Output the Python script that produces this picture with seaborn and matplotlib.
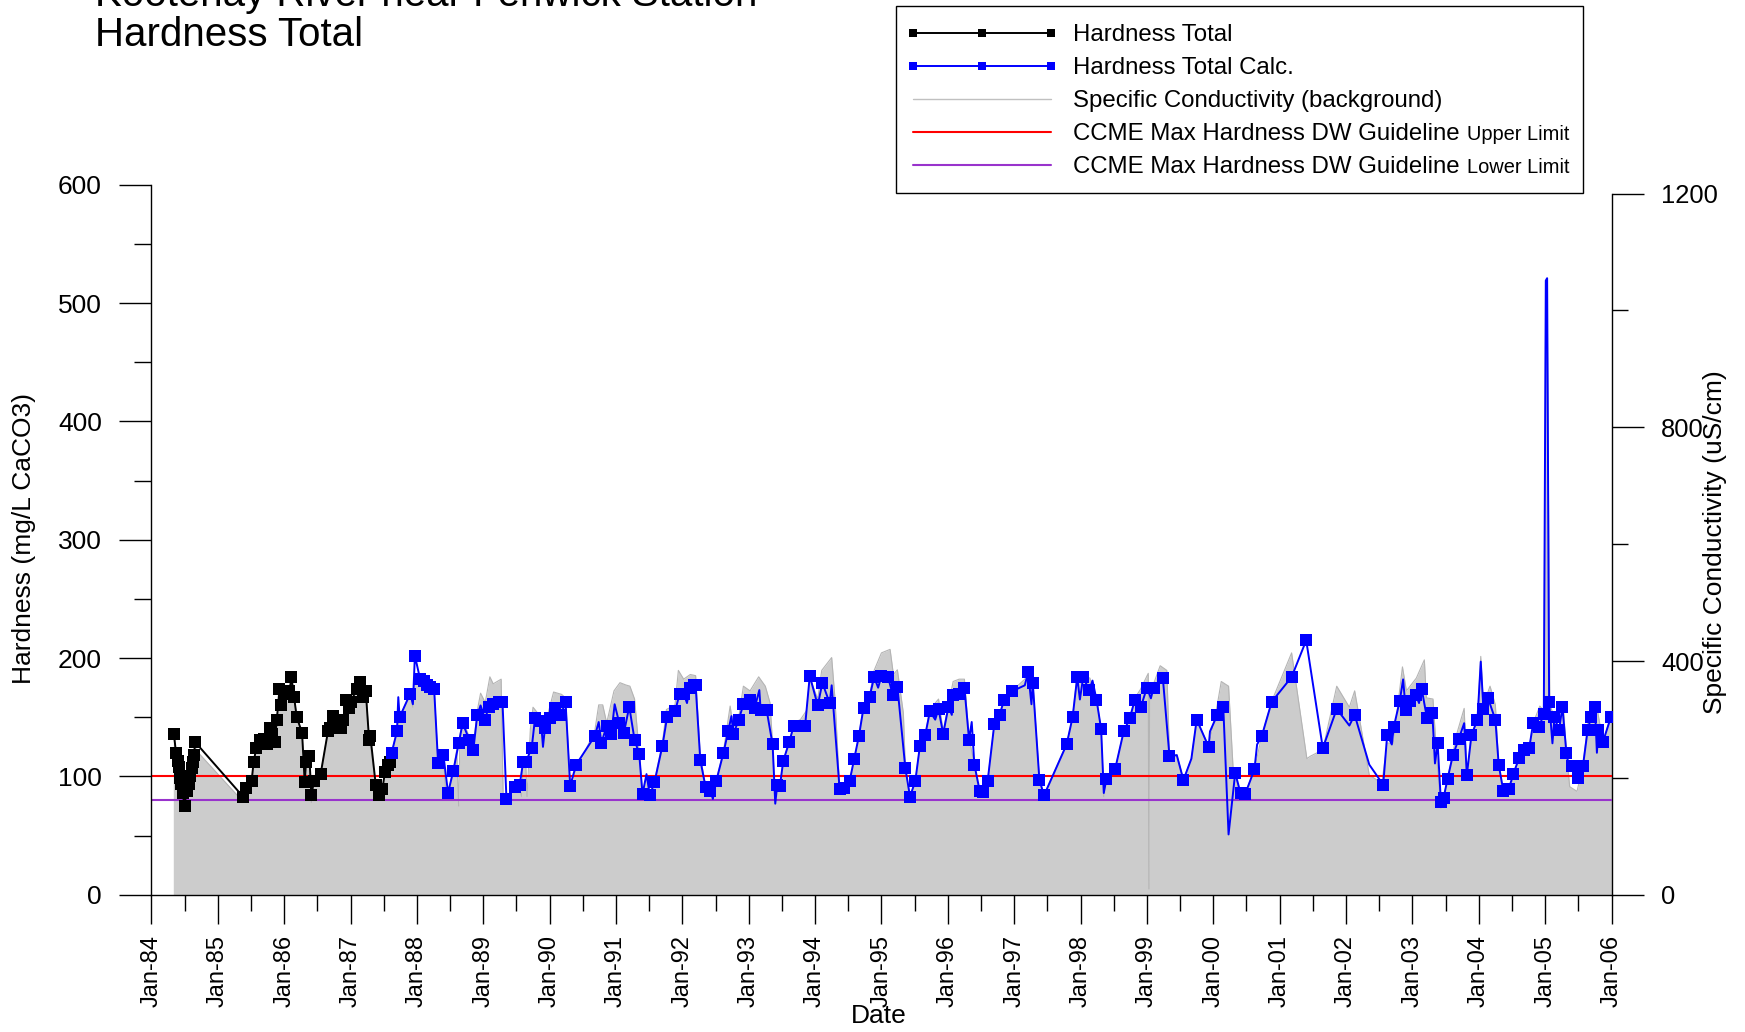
import matplotlib
matplotlib.use("Agg")
import numpy as np
import pandas as pd
import matplotlib.pyplot as plt
import seaborn as sns
from matplotlib.lines import Line2D
from matplotlib.patches import Rectangle
from matplotlib.ticker import MultipleLocator, FixedLocator

# measured total hardness (mg/L CaCO3) by decimal year
total_year = [1984.34, 1984.37, 1984.40, 1984.41, 1984.43, 1984.44, 1984.47, 1984.50,
              1984.53, 1984.57, 1984.58, 1984.61, 1984.63, 1984.64, 1984.66,
              1985.38, 1985.43, 1985.51, 1985.54, 1985.58, 1985.63, 1985.69, 1985.74,
              1985.78, 1985.81, 1985.86, 1985.89, 1985.93, 1985.96, 1986.00, 1986.08,
              1986.11, 1986.15, 1986.19, 1986.27, 1986.31, 1986.33, 1986.38, 1986.41,
              1986.45, 1986.55, 1986.66, 1986.69, 1986.73, 1986.82, 1986.86, 1986.89,
              1986.93, 1986.97, 1987.00, 1987.10, 1987.15, 1987.19, 1987.23, 1987.28,
              1987.30, 1987.38, 1987.43, 1987.48, 1987.52, 1987.56, 1987.59]
total_hard = [136, 120, 113, 108, 99, 94, 86, 75, 88, 94, 100, 107, 112, 118, 129,
              83, 90, 96, 112, 124, 131, 132, 127, 141, 136, 129, 148, 174, 160, 170,
              172, 184, 167, 150, 137, 95, 112, 117, 84, 96, 102, 138, 141, 151, 148,
              141, 148, 165, 158, 163, 174, 180, 167, 172, 131, 134, 93, 84, 89, 104,
              110, 112]

# calculated hardness (all line vertices)
calc_year = [1987.62, 1987.70, 1987.72, 1987.74, 1987.90, 1987.94, 1987.97, 1988.05,
             1988.10, 1988.15, 1988.20, 1988.26, 1988.32, 1988.40, 1988.47, 1988.55,
             1988.63, 1988.69, 1988.79, 1988.85, 1988.91, 1988.96, 1989.03, 1989.08,
             1989.15, 1989.23, 1989.29, 1989.35, 1989.48, 1989.55, 1989.60, 1989.64,
             1989.73, 1989.78, 1989.87, 1989.90, 1989.93, 1990.01, 1990.08, 1990.17,
             1990.24, 1990.31, 1990.40, 1990.68, 1990.74, 1990.78, 1990.86, 1990.93,
             1990.98, 1991.05, 1991.12, 1991.20, 1991.28, 1991.35, 1991.40, 1991.46,
             1991.51, 1991.58, 1991.70, 1991.77, 1991.89, 1991.96, 1992.02, 1992.07,
             1992.11, 1992.17, 1992.20, 1992.27, 1992.35, 1992.42, 1992.46, 1992.51,
             1992.62, 1992.69, 1992.74, 1992.77, 1992.85, 1992.92, 1993.02, 1993.09,
             1993.16, 1993.18, 1993.27, 1993.36, 1993.40, 1993.43, 1993.47, 1993.52,
             1993.61, 1993.68, 1993.77, 1993.85, 1993.92, 1994.04, 1994.11, 1994.22,
             1994.25, 1994.37, 1994.43, 1994.52, 1994.59, 1994.66, 1994.73, 1994.82,
             1994.89, 1994.95, 1995.00, 1995.10, 1995.17, 1995.24, 1995.36, 1995.43,
             1995.51, 1995.58, 1995.66, 1995.73, 1995.81, 1995.86, 1995.93, 1996.01,
             1996.06, 1996.08, 1996.17, 1996.25, 1996.32, 1996.36, 1996.40, 1996.48,
             1996.53, 1996.60, 1996.70, 1996.78, 1996.85, 1996.97, 1997.16, 1997.21,
             1997.26, 1997.28, 1997.38, 1997.45, 1997.79, 1997.88, 1997.95, 1997.99,
             1998.04, 1998.13, 1998.18, 1998.24, 1998.31, 1998.35, 1998.39, 1998.52,
             1998.65, 1998.74, 1998.82, 1998.91, 1999.00, 1999.06, 1999.10, 1999.24,
             1999.34, 1999.45, 1999.55, 1999.67, 1999.75, 1999.93, 1999.95, 2000.06,
             2000.15, 2000.23, 2000.33, 2000.41, 2000.48, 2000.62, 2000.66, 2000.73,
             2000.88, 2001.18, 2001.40, 2001.65, 2001.86, 2002.05, 2002.13, 2002.35,
             2002.56, 2002.62, 2002.69, 2002.72, 2002.81, 2002.86, 2002.90, 2002.96,
             2003.05, 2003.10, 2003.14, 2003.22, 2003.30, 2003.34, 2003.38, 2003.43,
             2003.47, 2003.53, 2003.61, 2003.70, 2003.78, 2003.82, 2003.89, 2003.98,
             2004.03, 2004.07, 2004.14, 2004.25, 2004.30, 2004.37, 2004.45, 2004.52,
             2004.61, 2004.68, 2004.76, 2004.82, 2004.91, 2004.98, 2005.01, 2005.03,
             2005.06, 2005.11, 2005.14, 2005.21, 2005.26, 2005.32, 2005.37, 2005.41,
             2005.49, 2005.57, 2005.64, 2005.69, 2005.75, 2005.78, 2005.80, 2005.87,
             2005.99]
calc_hard = [120, 138, 167, 150, 170, 161, 202, 182, 181, 177, 176, 174, 111, 118, 86, 105,
             128, 145, 131, 122, 152, 160, 148, 159, 161, 163, 163, 81, 91, 93, 112, 112,
             124, 149, 147, 125, 141, 149, 158, 152, 163, 92, 110, 134, 146, 128, 143, 136,
             161, 145, 137, 159, 131, 119, 85, 102, 84, 95, 126, 150, 155, 170, 170, 162,
             175, 177, 177, 114, 91, 88, 81, 96, 120, 138, 151, 136, 148, 161, 165, 158,
             173, 156, 156, 127, 77, 93, 92, 113, 129, 143, 143, 143, 185, 160, 179, 162,
             177, 89, 90, 96, 115, 134, 158, 167, 184, 175, 185, 184, 169, 176, 107, 83,
             96, 126, 135, 155, 148, 157, 136, 159, 152, 169, 170, 175, 131, 146, 110, 88,
             87, 96, 144, 152, 165, 172, 177, 188, 161, 179, 97, 84, 127, 150, 184, 165,
             184, 173, 181, 165, 140, 86, 98, 106, 138, 149, 165, 159, 175, 166, 175, 183,
             117, 118, 97, 115, 148, 125, 138, 152, 159, 51, 103, 86, 85, 106, 127, 134,
             163, 184, 215, 124, 157, 143, 152, 110, 93, 135, 127, 142, 164, 182, 156, 164,
             169, 162, 174, 149, 154, 111, 128, 78, 82, 98, 118, 132, 145, 101, 135, 148,
             197, 157, 166, 148, 110, 88, 89, 102, 116, 122, 124, 145, 142, 153, 519, 521,
             163, 128, 150, 139, 159, 120, 105, 109, 99, 109, 139, 150, 159, 120, 139, 129,
             150]
# calculated vertices drawn without a marker
calc_nomark = [1987.72, 1987.94, 1988.96, 1989.90, 1990.74, 1990.98, 1991.46, 1992.07,
               1992.46, 1992.74, 1993.16, 1993.40, 1994.25, 1994.95, 1995.81, 1996.06,
               1996.36, 1997.16, 1997.26, 1997.99, 1998.18, 1998.35, 1999.06, 1999.45,
               1999.67, 1999.95, 2000.23, 2000.66, 2002.05, 2002.35, 2002.69, 2002.86,
               2003.10, 2003.34, 2003.78, 2004.03, 2005.01, 2005.03, 2005.11, 2005.37,
               2005.78]

# specific conductivity (uS/cm), background shading
cond_year = [1984.33, 1984.37, 1984.41, 1984.44, 1984.50, 1984.53, 1984.58, 1984.63,
             1984.66, 1984.70, 1985.36, 1985.43, 1985.51, 1985.54, 1985.58, 1985.63,
             1985.69, 1985.74, 1985.78, 1985.86, 1985.89, 1985.93, 1985.96, 1986.00,
             1986.08, 1986.11, 1986.15, 1986.19, 1986.27, 1986.31, 1986.33, 1986.38,
             1986.41, 1986.45, 1986.55, 1986.66, 1986.73, 1986.82, 1986.89, 1986.93,
             1987.00, 1987.10, 1987.15, 1987.23, 1987.28, 1987.38, 1987.43, 1987.48,
             1987.52, 1987.59, 1987.62, 1987.70, 1987.74, 1987.90, 1987.94, 1987.97,
             1988.05, 1988.10, 1988.15, 1988.20, 1988.26, 1988.32, 1988.40, 1988.44,
             1988.47, 1988.55, 1988.60, 1988.63, 1988.65, 1988.69, 1988.79, 1988.85,
             1988.91, 1988.96, 1989.03, 1989.10, 1989.15, 1989.27, 1989.30, 1989.35,
             1989.45, 1989.52, 1989.58, 1989.60, 1989.64, 1989.66, 1989.71, 1989.75,
             1989.87, 1989.93, 1990.06, 1990.18, 1990.24, 1990.31, 1990.41, 1990.68,
             1990.74, 1990.80, 1990.86, 1990.97, 1991.06, 1991.15, 1991.21, 1991.28,
             1991.35, 1991.40, 1991.46, 1991.51, 1991.58, 1991.70, 1991.76, 1991.89,
             1991.94, 1992.02, 1992.12, 1992.20, 1992.27, 1992.35, 1992.42, 1992.47,
             1992.51, 1992.62, 1992.72, 1992.77, 1992.85, 1992.92, 1993.02, 1993.15,
             1993.25, 1993.32, 1993.36, 1993.40, 1993.43, 1993.47, 1993.52, 1993.61,
             1993.68, 1993.78, 1993.87, 1993.92, 1994.04, 1994.10, 1994.25, 1994.30,
             1994.37, 1994.43, 1994.52, 1994.59, 1994.66, 1994.73, 1994.82, 1994.89,
             1995.00, 1995.13, 1995.18, 1995.24, 1995.33, 1995.36, 1995.43, 1995.51,
             1995.58, 1995.66, 1995.73, 1995.86, 1995.93, 1996.01, 1996.08, 1996.17,
             1996.25, 1996.32, 1996.40, 1996.48, 1996.53, 1996.60, 1996.70, 1996.78,
             1996.85, 1996.97, 1997.16, 1997.21, 1997.28, 1997.38, 1997.45, 1997.79,
             1997.88, 1997.95, 1998.04, 1998.14, 1998.24, 1998.31, 1998.35, 1998.39,
             1998.52, 1998.65, 1998.74, 1998.82, 1998.90, 1999.02, 1999.03, 1999.04,
             1999.10, 1999.20, 1999.30, 1999.34, 1999.45, 1999.55, 1999.67, 1999.75,
             1999.93, 2000.06, 2000.12, 2000.23, 2000.30, 2000.41, 2000.48, 2000.62,
             2000.73, 2000.88, 2001.18, 2001.41, 2001.46, 2001.65, 2001.86, 2002.05,
             2002.13, 2002.35, 2002.54, 2002.62, 2002.71, 2002.85, 2002.91, 2003.06,
             2003.18, 2003.21, 2003.31, 2003.37, 2003.43, 2003.47, 2003.53, 2003.67,
             2003.78, 2003.82, 2003.89, 2003.98, 2004.03, 2004.07, 2004.17, 2004.25,
             2004.30, 2004.37, 2004.45, 2004.52, 2004.61, 2004.68, 2004.76, 2004.82,
             2004.92, 2004.98, 2005.01, 2005.03, 2005.07, 2005.14, 2005.21, 2005.27,
             2005.32, 2005.37, 2005.48, 2005.57, 2005.65, 2005.78, 2005.87, 2006.00]
cond_val = [276, 244, 219, 193, 158, 179, 203, 227, 252, 244, 162, 183, 195, 227, 252, 266,
            268, 258, 286, 264, 300, 349, 325, 345, 349, 373, 339, 304, 278, 193, 227, 237,
            158, 195, 207, 280, 306, 300, 300, 335, 331, 353, 365, 349, 270, 189, 166, 181,
            211, 227, 244, 280, 304, 345, 321, 369, 369, 367, 359, 357, 353, 225, 240, 166,
            175, 213, 248, 152, 274, 300, 270, 252, 315, 345, 329, 373, 361, 369, 168, 164,
            185, 191, 168, 227, 227, 168, 284, 321, 304, 290, 347, 343, 337, 187, 217, 280,
            325, 325, 294, 349, 363, 359, 357, 335, 244, 173, 203, 171, 195, 260, 317, 325,
            384, 369, 377, 375, 237, 187, 181, 168, 195, 246, 323, 284, 304, 357, 349, 373,
            357, 329, 258, 156, 189, 187, 229, 262, 294, 300, 315, 371, 335, 384, 406, 335,
            181, 183, 195, 233, 272, 323, 341, 384, 414, 420, 377, 385, 311, 217, 168, 195,
            256, 274, 317, 335, 280, 325, 365, 369, 369, 268, 223, 168, 177, 195, 292, 309,
            335, 349, 369, 381, 365, 197, 171, 258, 304, 377, 373, 371, 335, 284, 168, 199,
            215, 280, 302, 337, 351, 379, 10, 355, 361, 392, 384, 237, 240, 197, 233, 300,
            254, 325, 365, 357, 213, 175, 173, 215, 272, 331, 414, 233, 237, 248, 357, 321,
            349, 205, 191, 260, 258, 390, 349, 371, 402, 337, 335, 231, 148, 166, 199, 276,
            319, 205, 274, 300, 408, 325, 357, 325, 223, 171, 181, 197, 235, 248, 252, 294,
            323, 315, 1045, 1045, 325, 304, 282, 329, 244, 185, 177, 221, 300, 321, 262, 309]

# guideline levels (mg/L CaCO3)
upper_limit = 100
lower_limit = 80

year_ticks = [1984, 1985, 1986, 1987, 1988, 1989, 1990, 1991, 1992, 1993, 1994, 1995,
              1996, 1997, 1998, 1999, 2000, 2001, 2002, 2003, 2004, 2005, 2006]
year_labels = ["Jan-84", "Jan-85", "Jan-86", "Jan-87", "Jan-88", "Jan-89", "Jan-90",
               "Jan-91", "Jan-92", "Jan-93", "Jan-94", "Jan-95", "Jan-96", "Jan-97",
               "Jan-98", "Jan-99", "Jan-00", "Jan-01", "Jan-02", "Jan-03", "Jan-04",
               "Jan-05", "Jan-06"]

sns.set_style("ticks")
plt.rcParams["font.family"] = ["Liberation Sans", "DejaVu Sans"]
plt.rcParams["text.color"] = "black"
plt.rcParams["axes.labelcolor"] = "black"
plt.rcParams["xtick.color"] = "black"
plt.rcParams["ytick.color"] = "black"

total = pd.DataFrame({"year": total_year, "hardness": total_hard})
calc = pd.DataFrame({"year": calc_year, "hardness": calc_hard})
calc_marked = calc[~calc["year"].isin(calc_nomark)]
cond = pd.DataFrame({"year": cond_year, "cond": cond_val})

fig = plt.figure(figsize=(17.45, 10.32), dpi=100)
ax = fig.add_axes([0.08676, 0.13295, 0.83674, 0.68808])
ax2 = ax.twinx()

# background conductivity on the right axis
ax2.fill_between(cond["year"], cond["cond"], color="#cccccc", linewidth=0)
sns.lineplot(data=cond, x="year", y="cond", ax=ax2, color="#b4b4b4",
             linewidth=0.8, estimator=None, sort=False)

# hardness on the left axis
ax.axhline(upper_limit, color="#ff0000", linewidth=1.5, zorder=1)
ax.axhline(lower_limit, color="#9933cc", linewidth=1.5, zorder=1)
sns.lineplot(data=total, x="year", y="hardness", ax=ax, color="black",
             linewidth=1.4, marker="s", markersize=8.5, markeredgewidth=0,
             estimator=None, sort=False, zorder=3)
sns.lineplot(data=calc, x="year", y="hardness", ax=ax, color="#0000ff",
             linewidth=1.4, estimator=None, sort=False, zorder=3)
sns.scatterplot(data=calc_marked, x="year", y="hardness", ax=ax, color="#0000ff",
                marker="s", s=72, linewidth=0, zorder=4)

ax.set_zorder(ax2.get_zorder() + 1)
ax.patch.set_visible(False)

# axes setup
ax.set_xlim(1984, 2006)
ax.set_ylim(0, 600)
ax2.set_ylim(0, 1215.2)
ax.set_xlabel("")
ax.set_ylabel("")
ax2.set_ylabel("")

for s in ["top", "right"]:
    ax.spines[s].set_visible(False)
for s in ["top", "left", "bottom"]:
    ax2.spines[s].set_visible(False)
ax2.spines["right"].set_bounds(0, 1200)
for sp in list(ax.spines.values()) + [ax2.spines["right"]]:
    sp.set_linewidth(1.0)
    sp.set_color("black")

ax.xaxis.set_major_locator(FixedLocator(year_ticks))
ax.set_xticklabels(year_labels, rotation=90, fontsize=17)
ax.xaxis.set_minor_locator(MultipleLocator(0.5))
ax.tick_params(axis="x", which="major", length=21, width=1, pad=8, color="black")
ax.tick_params(axis="x", which="minor", length=11.5, width=1, color="black")

ax.yaxis.set_major_locator(MultipleLocator(100))
ax.yaxis.set_minor_locator(MultipleLocator(50))
ax.tick_params(axis="y", which="major", length=23.4, width=1, pad=12.2,
               labelsize=19, color="black")
ax.tick_params(axis="y", which="minor", length=12, width=1, color="black")

ax2.set_yticks([0, 400, 800, 1200])
ax2.yaxis.set_minor_locator(FixedLocator([200, 600, 1000]))
ax2.tick_params(axis="y", which="major", length=23, width=1, pad=12.7,
                labelsize=18.4, color="black")
ax2.tick_params(axis="y", which="minor", length=11.5, width=1, color="black")

# axis titles
fig.text(24 / 1745, 0.478, "Hardness (mg/L CaCO3)", rotation=90, fontsize=19,
         ha="center", va="center")
fig.text(1715 / 1745, 0.4748, "Specific Conductivity (uS/cm)", rotation=90,
         fontsize=19, ha="center", va="center")
fig.text(879 / 1745, 0.0155, "Date", fontsize=19, ha="center", va="center")

# chart title
fig.text(95 / 1745, 1 - 6 / 1032, "Kootenay River near Fenwick Station", fontsize=29,
         ha="left", va="baseline")
fig.text(95 / 1745, 1 - 45.6 / 1032, "Hardness Total", fontsize=29,
         ha="left", va="baseline")

# legend
handles = [
    Line2D([], [], color="black", linewidth=1.4, marker="s", markersize=5.5,
           markeredgewidth=0),
    Line2D([], [], color="#0000ff", linewidth=1.4, marker="s", markersize=5.5,
           markeredgewidth=0),
    Line2D([], [], color="#c0c0c0", linewidth=1.0),
    Line2D([], [], color="#ff0000", linewidth=1.5),
    Line2D([], [], color="#9933cc", linewidth=1.5),
]
labels = ["Hardness Total", "Hardness Total Calc.", "Specific Conductivity (background)",
          "CCME Max Hardness DW Guideline", "CCME Max Hardness DW Guideline"]
leg = ax.legend(handles, labels, loc="upper left",
                bbox_to_anchor=(906 / 1745, 1 - 24 / 1032),
                bbox_transform=fig.transFigure, frameon=False, fontsize=17.3,
                handlelength=6.35, handletextpad=0.6, labelspacing=0.46,
                borderpad=0, borderaxespad=0, numpoints=3)
fig.add_artist(Rectangle((896 / 1745, 1 - 193 / 1032), 687 / 1745, 187 / 1032,
                         transform=fig.transFigure, fill=False,
                         edgecolor="black", linewidth=1.0))

fig.canvas.draw()
renderer = fig.canvas.get_renderer()
inv = fig.transFigure.inverted()
for txt, extra in zip(leg.get_texts()[3:], ["Upper Limit", "Lower Limit"]):
    bb = txt.get_window_extent(renderer)
    x0, y0 = inv.transform((bb.x1 + 7, bb.y0 + 1))
    fig.text(x0, y0, extra, fontsize=14.4, ha="left", va="bottom")

fig.savefig("out.png", dpi=100)
